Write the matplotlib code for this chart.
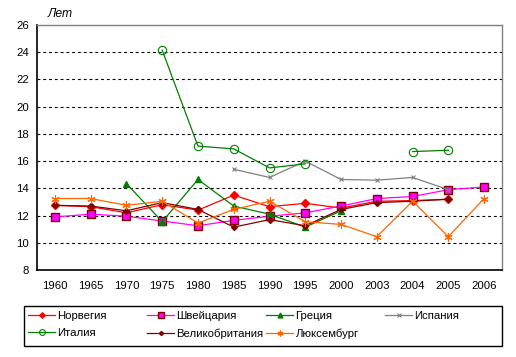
import numpy as np
import matplotlib
matplotlib.use('Agg')
import matplotlib.pyplot as plt
from matplotlib.patches import Rectangle

nan = np.nan
years = ['1960', '1965', '1970', '1975', '1980', '1985', '1990', '1995',
         '2000', '2003', '2004', '2005', '2006']

norway = [12.75, 12.65, 12.2, 12.8, 12.4, 13.5, 12.65, 12.9, 12.55, 13.05, 13.1, 13.2, nan]
switzerland = [11.9, 12.1, 11.95, 11.6, 11.25, 11.65, 11.95, 12.2, 12.7, 13.25, 13.4, 13.9, 14.1]
greece = [nan, nan, 14.35, 11.55, 14.65, 12.7, 12.1, 11.15, 12.35, nan, nan, nan, nan]
spain = [nan, nan, nan, nan, nan, 15.4, 14.8, 16.0, 14.65, 14.6, 14.8, 13.9, nan]
italy = [nan, nan, nan, 24.15, 17.1, 16.9, 15.5, 15.8, nan, nan, 16.7, 16.8, nan]
uk = [12.75, 12.7, 12.35, 12.95, 12.45, 11.15, 11.7, 11.25, 12.45, 12.95, 13.05, 13.2, nan]
luxembourg = [13.25, 13.25, 12.75, 13.05, 11.45, 12.45, 13.05, 11.55, 11.35, 10.45, 13.05, 10.45, 13.25]

names = ['Норвегия', 'Швейцария', 'Греция', 'Испания', 'Италия',
         'Великобритания', 'Люксембург']

plt.rcParams['font.family'] = ['Liberation Sans', 'DejaVu Sans']
fs = 8.2

fig = plt.figure(figsize=(5.16, 3.57), dpi=100)
ax = fig.add_axes([37/516, 1-270/357, 465/516, 245/357])

x = np.arange(len(years))
styles = [
    (norway, dict(color='#FF0000', marker='D', ms=4, mfc='#FF0000', mec='#FF0000')),
    (switzerland, dict(color='#FF00FF', marker='s', ms=5.2, mfc='#FF00FF', mec='#800000', mew=1)),
    (greece, dict(color='#008000', marker='^', ms=5, mfc='#008000', mec='#008000')),
    (spain, dict(color='#808080', marker='x', ms=3.5, mec='#808080', mew=0.8)),
    (italy, dict(color='#008000', marker='o', ms=6, mfc='none', mec='#008000', mew=0.8)),
    (uk, dict(color='#800000', marker='D', ms=3, mfc='#800000', mec='#800000')),
    (luxembourg, dict(color='#FF6600', marker=(6, 2, 0), ms=6, mec='#FF6600', mew=0.8)),
]
handles = []
for (vals, st), name in zip(styles, names):
    ln, = ax.plot(x, vals, lw=0.9, label=name, **st)
    handles.append(ln)

ax.set_xlim(-0.5, len(years) - 0.5)
ax.set_ylim(8, 26)
ax.set_yticks(np.arange(8, 27, 2))
ax.set_xticks(x)
ax.set_xticklabels(years)
ax.tick_params(axis='both', length=0, labelsize=fs)
ax.tick_params(axis='x', pad=8)
ax.tick_params(axis='y', pad=6)
ax.yaxis.grid(True, color='black', lw=0.8, linestyle=(0, (2.6, 2.6)))
gl = ax.get_ygridlines()
gl[0].set_visible(False)
gl[-1].set_visible(False)
ax.set_axisbelow(True)
for s in ['left', 'bottom']:
    ax.spines[s].set_color('black')
    ax.spines[s].set_linewidth(1.2)
for s in ['top', 'right']:
    ax.spines[s].set_color('#808080')
    ax.spines[s].set_linewidth(1)

fig.text(48/516, 1-14/357, 'Лет', fontsize=fs+0.5, style='italic', va='center', ha='left')

# legend frame and four columns
fig.add_artist(Rectangle((24/516, 1-346/357), 478/516, 40/357, transform=fig.transFigure,
                         fill=False, edgecolor='black', lw=1))
cols = [[0, 4], [1, 5], [2, 6], [3]]
col_x = [28, 147, 266, 385]
for idx, cx in zip(cols, col_x):
    fig.legend(handles=[handles[i] for i in idx], loc='upper left',
               bbox_to_anchor=(cx/516, 1-311/357), bbox_transform=fig.transFigure,
               frameon=False, fontsize=fs, handlelength=2.4, handletextpad=0.2,
               borderpad=0, borderaxespad=0, labelspacing=0.65, numpoints=1,
               markerscale=0.7)

fig.savefig('out.png', dpi=100)
